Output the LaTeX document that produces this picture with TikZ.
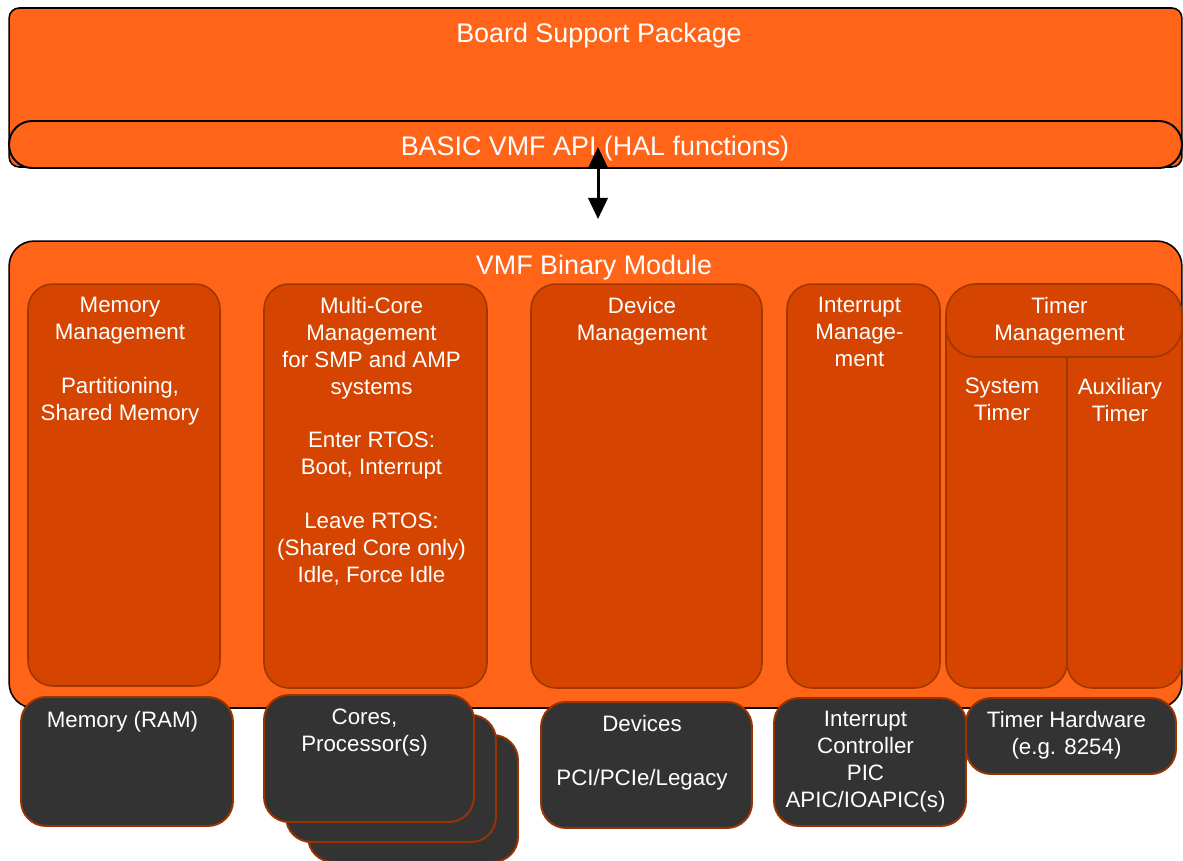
\documentclass[tikz,border=0pt]{standalone}
\usepackage{fontspec}
\setmainfont{Liberation Sans}
\usepackage{tikz}
\usetikzlibrary{arrows.meta,positioning}

\definecolor{vmforange}{HTML}{FF6418}
\definecolor{svcfill}{HTML}{D54400}
\definecolor{svcedge}{HTML}{A03800}
\definecolor{hwfill}{HTML}{333333}
\definecolor{hwedge}{HTML}{993300}
\newcommand{\bigtxt}{\fontsize{15.3}{18}\selectfont}
\newcommand{\smalltxt}{\fontsize{12.7}{15.3}\selectfont}

\begin{document}
\begin{tikzpicture}[
  x=0.02cm, y=-0.02cm,
  >=Latex,
  pkg/.style={draw=black, line width=0.9pt, fill=vmforange, rounded corners=0.2cm, inner sep=0pt},
  apibar/.style={draw=black, line width=1.1pt, fill=vmforange, rounded corners=0.46cm, inner sep=0pt},
  module/.style={draw=black, line width=0.9pt, fill=vmforange, rounded corners=0.5cm, inner sep=0pt},
  svc/.style={draw=svcedge, line width=0.9pt, fill=svcfill, rounded corners=0.5cm, inner sep=0pt},
  hw/.style={draw=hwedge, line width=1.1pt, fill=hwfill, rounded corners=0.5cm, inner sep=0pt},
  title/.style={anchor=north, inner sep=0pt, text=white, font=\bigtxt},
  lbl/.style={anchor=north, inner sep=0pt, text=white, align=center, font=\smalltxt},
  halarr/.style={<->, line width=1.7pt, >={Triangle[length=12pt,width=11pt]}}
]
  \useasboundingbox (0,0) rectangle (1183,860);

  % Board support package on top
  \node[pkg, minimum width=23.46cm, minimum height=3.18cm] (bsp) at (595.5,87.5) {};
  \node[title] (bsptxt) at (599,23) {Board Support Package};
  \node[apibar, minimum width=23.46cm, minimum height=0.94cm] (api) at (595.5,144.5) {};
  \node[title, anchor=center] (apitxt) at (595,149) {BASIC VMF API (HAL functions)};

  % VMF binary module with its services
  \node[module, minimum width=23.46cm, minimum height=9.34cm] (vmf) at (595.5,474.5) {};
  \node[title] (vmftxt) at (594,255) {VMF Binary Module};

  \node[svc, minimum width=3.84cm, minimum height=8.04cm] (mem) at (124,485) {};
  \node[svc, minimum width=4.46cm, minimum height=8.08cm] (mc) at (375.5,486) {};
  \node[svc, minimum width=4.62cm, minimum height=8.08cm] (dev) at (646.5,486) {};
  \node[svc, minimum width=3.06cm, minimum height=8.08cm] (intr) at (863.5,486) {};
  \node[svc, minimum width=2.42cm, minimum height=7.76cm] (systmr) at (1006.5,494) {};
  \node[svc, minimum width=2.30cm, minimum height=7.76cm] (auxtmr) at (1124.5,494) {};
  \node[svc, rounded corners=0.6cm, minimum width=4.72cm, minimum height=1.46cm] (tmr) at (1064,320.5) {};

  \node[lbl] (memtxt) at (120,297) {Memory\\Management\\[15.3pt]Partitioning,\\Shared Memory};
  \node[lbl] (mctxt) at (371.5,297) {Multi-Core\\Management\\for SMP and AMP\\systems\\[15.3pt]Enter RTOS:\\Boot, Interrupt\\[15.3pt]Leave RTOS:\\(Shared Core only)\\Idle, Force Idle};
  \node[lbl] (devtxt) at (642,297) {Device\\Management};
  \node[lbl] (intrtxt) at (859.5,297) {Interrupt\\Manage-\\ment};
  \node[lbl] (tmrtxt) at (1059.5,297) {Timer\\Management};
  \node[lbl] (systxt) at (1002,378) {System\\Timer};
  \node[lbl] (auxtxt) at (1120,378) {Auxiliary\\Timer};

  % Hardware underneath
  \node[hw, minimum width=4.24cm, minimum height=2.58cm] (ram) at (127,761.5) {};
  \node[hw, minimum width=4.20cm, minimum height=2.54cm] (core3) at (413,798.5) {};
  \node[hw, minimum width=4.20cm, minimum height=2.54cm] (core2) at (391,778.5) {};
  \node[hw, minimum width=4.20cm, minimum height=2.54cm] (core1) at (369,758.5) {};
  \node[hw, minimum width=4.22cm, minimum height=2.52cm] (devs) at (646.5,765) {};
  \node[hw, minimum width=3.84cm, minimum height=2.56cm] (intc) at (870,762) {};
  \node[hw, minimum width=4.20cm, minimum height=1.52cm] (tmrhw) at (1071,736) {};

  \node[lbl] (ramtxt) at (122.5,711) {Memory (RAM)};
  \node[lbl] (coretxt) at (364.5,709) {Cores,\\Processor(s)};
  \node[lbl] (devstxt) at (642,715) {Devices\\[15.3pt]PCI/PCIe/Legacy};
  \node[lbl] (intctxt) at (865.5,711) {Interrupt\\Controller\\PIC\\APIC/IOAPIC(s)};
  \node[lbl] (tmrhwtxt) at (1066.5,711) {Timer Hardware\\(e.g. 8254)};

  % HAL calls between BSP and module
  \coordinate (halend) at (598,147);
  \coordinate (vmfend) at (598,219);
  \draw[halarr] (halend) -- (vmfend);
\end{tikzpicture}
\end{document}
